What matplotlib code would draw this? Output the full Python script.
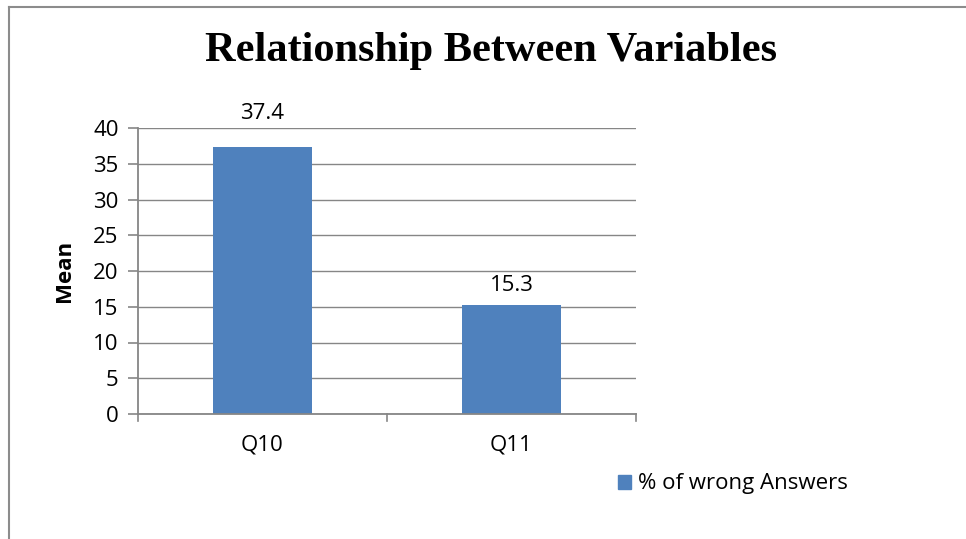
import matplotlib
matplotlib.use("Agg")
import matplotlib.pyplot as plt
from matplotlib.lines import Line2D
from matplotlib.patches import Patch

categories = ["Q10", "Q11"]
values = [37.4, 15.3]
value_labels = ["37.4", "15.3"]
yticks = [0, 5, 10, 15, 20, 25, 30, 35, 40]
series_name = "% of wrong Answers"
title = "Relationship Between Variables"
ylabel = "Mean"

label_offsets_px = [33, 19]

W, H = 966, 539
fig = plt.figure(figsize=(W / 100, H / 100), dpi=100)
fig.patch.set_facecolor("white")

gray = "#8c8c8c"
fig.add_artist(Line2D([9 / W, 1.0], [1 - 7 / H, 1 - 7 / H], color=gray, lw=1.5, transform=fig.transFigure))
fig.add_artist(Line2D([9 / W, 9 / W], [1 - 7 / H, 0.0], color=gray, lw=1.5, transform=fig.transFigure))

ax = fig.add_axes([138 / W, 1 - 414 / H, (636 - 138) / W, (414 - 128) / H])
x = list(range(len(categories)))
bar_color = "#4F81BD"
ax.bar(x, values, width=0.4, color=bar_color, zorder=3)
ax.set_xlim(-0.5, len(categories) - 0.5)
ax.set_ylim(0, 40)
ax.set_yticks(yticks)
ax.set_yticklabels([str(t) for t in yticks], fontsize=16, family="Open Sans")
ax.set_xticks(x)
ax.set_xticklabels(categories, fontsize=16, family="Open Sans")
ax.tick_params(axis="x", length=0, pad=15)
ax.tick_params(axis="y", length=7, width=1.2, color="#868686", pad=7)
for b in [-0.5, 0.5, 1.5]:
    ax.plot([b, b], [0, -1.0], color="#868686", lw=1.2, clip_on=False, zorder=4)

ax.grid(axis="y", color="#868686", lw=1.0, zorder=0)
for s in ["top", "right"]:
    ax.spines[s].set_visible(False)
for s in ["left", "bottom"]:
    ax.spines[s].set_color("#868686")
    ax.spines[s].set_linewidth(1.3)
    ax.spines[s].set_zorder(4)

for xi, v, lab, off in zip(x, values, value_labels, label_offsets_px):
    ax.annotate(lab, (xi, v), xytext=(0, off * 0.72), textcoords="offset points",
                ha="center", va="center", fontsize=16, family="Open Sans")

ax.set_ylabel(ylabel, fontsize=16, fontweight="bold", family="Open Sans", labelpad=13)

fig.text(491 / W, 1 - 51 / H, title, ha="center", va="center",
         fontsize=30.5, fontweight="bold", family="Liberation Serif")

leg = fig.legend(handles=[Patch(color=bar_color, label=series_name)],
                 loc="center left", bbox_to_anchor=(609 / W, 1 - 484 / H),
                 frameon=False, prop={"family": "Open Sans", "size": 16},
                 handlelength=0.6, handleheight=0.6, handletextpad=0.3, borderaxespad=0)

fig.savefig("out.png", dpi=100, facecolor="white")
